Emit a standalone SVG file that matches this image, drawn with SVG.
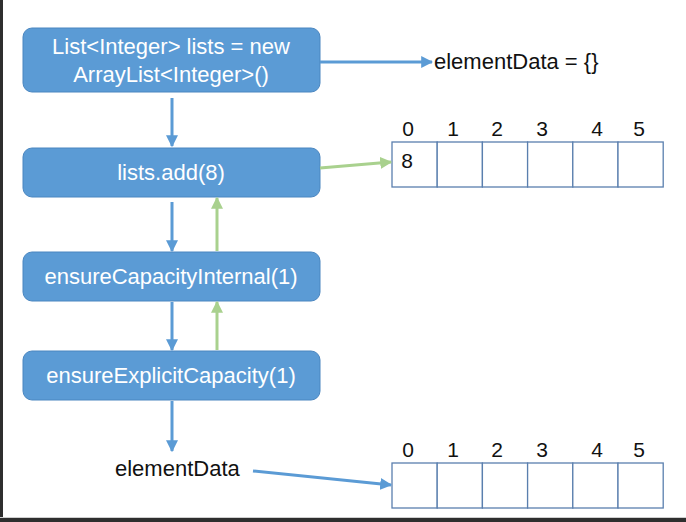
<svg xmlns="http://www.w3.org/2000/svg" width="686" height="522" viewBox="0 0 686 522">
<style>
.node rect{fill:#5b9bd5;stroke:#4a86c0;stroke-width:1}
.node text{fill:#ffffff;font-family:"Liberation Sans",Arial,sans-serif;font-size:22px;text-anchor:middle}
.lbl{fill:#111111;font-family:"Liberation Sans",Arial,sans-serif;font-size:22px}
.idx{fill:#111111;font-family:"Liberation Sans",Arial,sans-serif;font-size:21px;text-anchor:middle}
.cell{fill:#ffffff;stroke:#5a7fae;stroke-width:1.3}
.blue{stroke:#5b9bd5;stroke-width:3;fill:none}
.green{stroke:#a9d18e;stroke-width:3;fill:none}
</style>
<defs>
<marker id="ab" viewBox="0 0 10 10" refX="9" refY="5" markerWidth="4" markerHeight="4" orient="auto" markerUnits="strokeWidth"><path d="M0,0 L10,5 L0,10 z" fill="#5b9bd5"/></marker>
<marker id="ag" viewBox="0 0 10 10" refX="9" refY="5" markerWidth="4" markerHeight="4" orient="auto" markerUnits="strokeWidth"><path d="M0,0 L10,5 L0,10 z" fill="#a9d18e"/></marker>
</defs>
<rect x="0" y="0" width="686" height="522" fill="#ffffff"/>
<rect x="0" y="0" width="3" height="522" fill="#2e2e2e"/>
<rect x="0" y="517" width="686" height="1" fill="#cfcfcf"/>
<rect x="0" y="518" width="686" height="4" fill="#2e2e2e"/>

<g id="n1" class="node"><rect x="23" y="28" width="297" height="64" rx="9"/><text x="171" y="54">List&lt;Integer&gt; lists = new</text><text x="171" y="82">ArrayList&lt;Integer&gt;()</text></g>
<g id="n2" class="node"><rect x="23" y="148" width="297" height="49" rx="9"/><text x="171" y="180">lists.add(8)</text></g>
<g id="n3" class="node"><rect x="23" y="252" width="297" height="49" rx="9"/><text x="171" y="284">ensureCapacityInternal(1)</text></g>
<g id="n4" class="node"><rect x="23" y="351" width="297" height="49" rx="9"/><text x="171" y="383">ensureExplicitCapacity(1)</text></g>

<g id="t1"><text class="lbl" x="434" y="69">elementData = {}</text></g>
<g id="t2"><text class="lbl" x="115" y="476">elementData</text></g>

<g id="arr1">
<rect class="cell" x="392" y="142" width="45.2" height="45"/>
<rect class="cell" x="437.2" y="142" width="45.2" height="45"/>
<rect class="cell" x="482.4" y="142" width="45.2" height="45"/>
<rect class="cell" x="527.6" y="142" width="45.2" height="45"/>
<rect class="cell" x="572.8" y="142" width="45.2" height="45"/>
<rect class="cell" x="618" y="142" width="45.2" height="45"/>
<text class="idx" x="408" y="136">0</text><text class="idx" x="453" y="136">1</text><text class="idx" x="497" y="136">2</text><text class="idx" x="542" y="136">3</text><text class="idx" x="597" y="136">4</text><text class="idx" x="639" y="136">5</text>
<text class="idx" x="407" y="168">8</text>
</g>
<g id="arr2">
<rect class="cell" x="392" y="463" width="45.2" height="45"/>
<rect class="cell" x="437.2" y="463" width="45.2" height="45"/>
<rect class="cell" x="482.4" y="463" width="45.2" height="45"/>
<rect class="cell" x="527.6" y="463" width="45.2" height="45"/>
<rect class="cell" x="572.8" y="463" width="45.2" height="45"/>
<rect class="cell" x="618" y="463" width="45.2" height="45"/>
<text class="idx" x="408" y="457">0</text><text class="idx" x="453" y="457">1</text><text class="idx" x="497" y="457">2</text><text class="idx" x="542" y="457">3</text><text class="idx" x="597" y="457">4</text><text class="idx" x="639" y="457">5</text>
</g>

<g id="connectors">
<line class="blue" x1="320" y1="62" x2="432" y2="62" marker-end="url(#ab)"/>
<line class="blue" x1="172" y1="98" x2="172" y2="146" marker-end="url(#ab)"/>
<line class="blue" x1="172" y1="202" x2="172" y2="251" marker-end="url(#ab)"/>
<line class="blue" x1="172" y1="302" x2="172" y2="350" marker-end="url(#ab)"/>
<line class="blue" x1="172" y1="401" x2="172" y2="451" marker-end="url(#ab)"/>
<line class="green" x1="217" y1="251" x2="217" y2="198" marker-end="url(#ag)"/>
<line class="green" x1="217" y1="350" x2="217" y2="302" marker-end="url(#ag)"/>
<line class="green" x1="320" y1="168" x2="391" y2="162" marker-end="url(#ag)"/>
<line class="blue" x1="253" y1="471" x2="391" y2="485" marker-end="url(#ab)"/>
</g>
</svg>
